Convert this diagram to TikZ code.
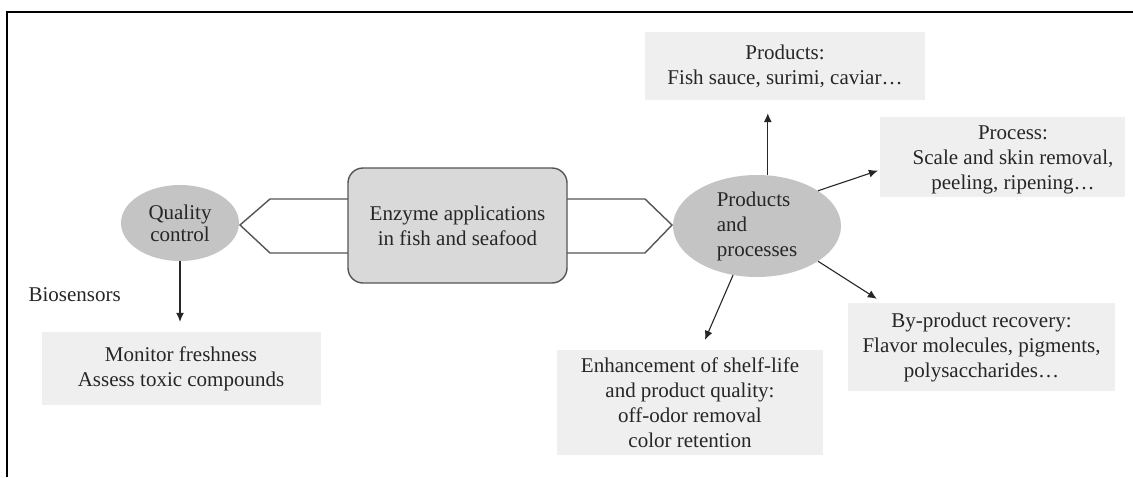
\documentclass[tikz,border=0pt]{standalone}
\usepackage{fontspec}
\setmainfont{Liberation Serif}
\usetikzlibrary{shapes.geometric,arrows.meta}
\definecolor{ellgray}{HTML}{C4C4C4}
\definecolor{boxgray}{HTML}{EFEFEF}
\definecolor{enzgray}{HTML}{D9D9D9}
\definecolor{edgegray}{HTML}{555555}
\definecolor{txt}{HTML}{262626}
\begin{document}
\begin{tikzpicture}[x=1pt,y=-1pt, font=\fontsize{21}{25}\selectfont, text=txt,
  ell/.style={ellipse, fill=ellgray, inner sep=0pt},
  lbox/.style={fill=boxgray, inner sep=0pt},
  arr/.style={draw=txt, line width=1.1pt, -{Latex[length=9pt,width=8pt]}},
  hexa/.style={draw=edgegray, fill=white, line width=1.4pt, line join=miter}]
\useasboundingbox (0,0) rectangle (1133,477);
\draw[line width=2.5pt] (7,477) -- (7,12) -- (1133,12);

% double-headed hexagon connectors (shapes)
\draw[hexa] (360,199) -- (270,199) -- (240,225) -- (270,253) -- (360,253) -- cycle;
\draw[hexa] (555,199) -- (645,199) -- (672,225) -- (645,253) -- (555,253) -- cycle;

\node[ell, minimum width=118pt, minimum height=76pt, align=center,
      font=\fontsize{21}{22}\selectfont] (qc) at (180,223) {Quality\\control};
\node[draw=edgegray, fill=enzgray, rounded corners=15pt, line width=1.4pt,
      minimum width=219pt, minimum height=115pt, align=center] (enz) at (457.5,225.5)
      {Enzyme applications\\in fish and seafood};
\node[ell, minimum width=168pt, minimum height=102pt, align=left] (pp) at (757,226)
      {Products\\and\\processes};

\node[lbox, minimum width=280pt, minimum height=68pt, align=center] (prod) at (785,66)
      {Products:\\Fish sauce, surimi, caviar\ldots};
\node[lbox, minimum width=245pt, minimum height=80pt] (proc) at (1002.5,157) {};
\node[align=center] (proctext) at (1013,160)
      {Process:\\Scale and skin removal,\\peeling, ripening\ldots};
\node[lbox, minimum width=267pt, minimum height=88pt, align=center] (byp) at (981.5,347)
      {By-product recovery:\\Flavor molecules, pigments,\\polysaccharides\ldots};
\node[lbox, minimum width=266pt, minimum height=105pt, align=center] (enh) at (690,402.5)
      {Enhancement of shelf-life\\and product quality:\\off-odor removal\\color retention};
\node[lbox, minimum width=279pt, minimum height=73pt, align=center] (mon) at (181,368.5)
      {Monitor freshness\\Assess toxic compounds};
\node[anchor=west] (bio) at (25,295) {Biosensors};

\draw[arr, shorten >=10pt] (qc.south) -- (qc.south |- mon.north);
\draw[arr, shorten >=13pt] (pp.78) -- (pp.78 |- prod.south);
\draw[arr, shorten >=2pt] (pp.30) -- ([yshift=-13pt]proc.west);
\draw[arr] (pp.-30) -- ([xshift=29pt,yshift=4pt]byp.north west);
\draw[arr] (pp.244) -- ([xshift=15pt,yshift=10pt]enh.north);
\end{tikzpicture}
\end{document}
